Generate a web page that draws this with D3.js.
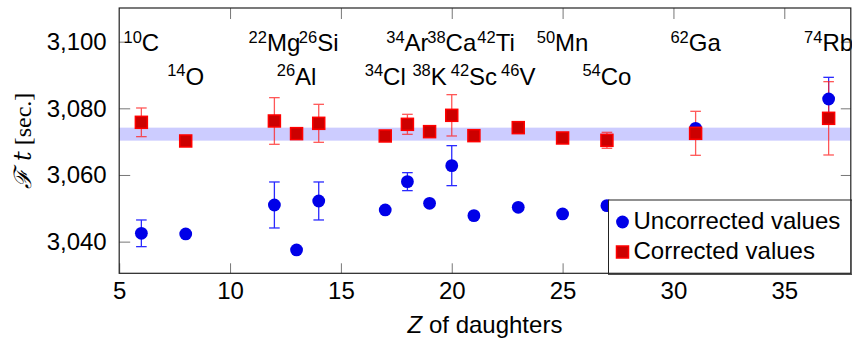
<!DOCTYPE html>
<html>
<head>
<meta charset="utf-8">
<script src="https://cdn.jsdelivr.net/npm/d3@7"></script>
<style>
  body { margin: 0; background: #fff; }
  svg { display: block; font-family: "Liberation Sans", Arial, Helvetica, sans-serif; }
</style>
</head>
<body>
<div id="chart"></div>
<script>
// data
var zVals = [6, 8, 12, 13, 14, 17, 18, 19, 20, 21, 23, 25, 27, 31, 37];
var uncorrected = [3042.5, 3042.3, 3051.0, 3037.5, 3052.2, 3049.5, 3058.0, 3051.5, 3062.8, 3047.8, 3050.3, 3048.3, 3050.8, 3074.0, 3082.8];
var uncorrErr = [4.0, 0, 6.9, 0, 5.7, 0, 2.7, 0, 6.0, 0, 0, 0, 0, 0, 6.5];
var corrected = [3075.8, 3070.2, 3076.2, 3072.4, 3075.5, 3071.7, 3075.2, 3073.0, 3077.9, 3071.8, 3074.2, 3071.1, 3070.4, 3072.5, 3077.0];
var corrErr = [4.3, 0, 7.0, 0, 5.7, 0, 3.0, 1.2, 6.2, 0, 0, 0, 2.4, 6.6, 11.0];

var bandLow = 3070.3, bandHigh = 3074.2;

var nucMass = ["10", "14", "22", "26", "26", "34", "34", "38", "38", "42", "42", "46", "50", "54", "62", "74"];
var nucSym = ["C", "O", "Mg", "Si", "Al", "Ar", "Cl", "Ca", "K", "Ti", "Sc", "V", "Mn", "Co", "Ga", "Rb"];
var nucZ = [6, 8, 12, 14, 13, 18, 17, 20, 19, 22, 21, 23, 25, 27, 31, 37];
var nucLevel = [3100, 3090, 3100, 3100, 3090, 3100, 3090, 3100, 3090, 3100, 3090, 3090, 3100, 3090, 3100, 3100];

var xTicks = [5, 10, 15, 20, 25, 30, 35];
var yTicks = [3040, 3060, 3080, 3100];

var W = 852, H = 339;
var margin = { top: 8, right: 1.2, bottom: 65.7, left: 119.2 },
    width = W - margin.left - margin.right,
    height = H - margin.top - margin.bottom;

var svg = d3.select("#chart").append("svg").attr("width", W).attr("height", H);
var g = svg.append("g").attr("transform", "translate(" + margin.left + "," + margin.top + ")");

var x = d3.scaleLinear().domain([5, 38]).range([0, width]);
var y = d3.scaleLinear().domain([3030.5, 3110.1]).range([height, 0]);

var fs = "24px";

// blue band
g.append("rect")
    .attr("x", 0).attr("width", width)
    .attr("y", y(bandHigh)).attr("height", y(bandLow) - y(bandHigh))
    .attr("fill", "#ccccff");

// axes, ticks pointing inward
var fmt = d3.format(",");
var ax = g.append("g").attr("transform", "translate(0," + height + ")")
    .call(d3.axisBottom(x).tickValues(xTicks).tickSize(-10).tickPadding(9));
var ay = g.append("g")
    .call(d3.axisLeft(y).tickValues(yTicks).tickFormat(fmt).tickSize(-11).tickPadding(12.5));
var axTop = g.append("g")
    .call(d3.axisTop(x).tickValues(xTicks.slice(1)).tickSize(-11).tickFormat(""));
var ayRight = g.append("g").attr("transform", "translate(" + width + ",0)")
    .call(d3.axisRight(y).tickValues(yTicks).tickSize(-10).tickFormat(""));

[ax, ay, axTop, ayRight].forEach(function(a) {
    a.select(".domain").remove();
    a.selectAll(".tick line").attr("stroke", "#777").attr("stroke-width", 1);
    a.selectAll("text").attr("font-size", fs).attr("font-family", "Liberation Sans, Arial, sans-serif").attr("fill", "#000");
});

// nuclide labels
var labs = g.append("g");
nucSym.forEach(function(s, i) {
    var t = labs.append("text")
        .attr("x", x(nucZ[i]))
        .attr("y", y(nucLevel[i]) + 9.8)
        .attr("text-anchor", "middle")
        .attr("font-size", fs);
    t.append("tspan").attr("font-size", "16.5px").attr("dy", -8.4).text(nucMass[i]);
    t.append("tspan").attr("dy", 8.4).text(s);
});

// error bars
function errBars(vals, errs, color, op) {
    var eg = g.append("g").attr("stroke", color).attr("stroke-width", 1.3).attr("opacity", op);
    zVals.forEach(function(z, i) {
        if (!errs[i]) return;
        var cx = x(z), y1 = y(vals[i] + errs[i]), y2 = y(vals[i] - errs[i]);
        eg.append("line").attr("x1", cx).attr("x2", cx).attr("y1", y1).attr("y2", y2);
        eg.append("line").attr("x1", cx - 5.3).attr("x2", cx + 5.3).attr("y1", y1).attr("y2", y1);
        eg.append("line").attr("x1", cx - 5.3).attr("x2", cx + 5.3).attr("y1", y2).attr("y2", y2);
    });
}
errBars(uncorrected, uncorrErr, "#2a2aff", 1);
errBars(corrected, corrErr, "#ff2020", 0.75);

// markers
g.append("g").selectAll("circle").data(zVals).enter().append("circle")
    .attr("cx", function(d) { return x(d); })
    .attr("cy", function(d, i) { return y(uncorrected[i]); })
    .attr("r", 6.4)
    .attr("fill", "#0000e8");
g.append("g").selectAll("rect").data(zVals).enter().append("rect")
    .attr("x", function(d) { return x(d) - 6; })
    .attr("y", function(d, i) { return y(corrected[i]) - 6; })
    .attr("width", 12).attr("height", 12)
    .attr("fill", "#cc0000").attr("stroke", "#ff0000").attr("stroke-width", 1.5);

// legend
var leg = g.append("g").attr("transform", "translate(" + (608.5 - margin.left) + "," + (200 - margin.top) + ")");
leg.append("rect").attr("width", W - 608.5).attr("height", height - (200 - margin.top) + 1)
    .attr("fill", "#fff").attr("stroke", "#222").attr("stroke-width", 1);
leg.append("circle").attr("cx", 14).attr("cy", 22).attr("r", 6.4).attr("fill", "#0000e8");
leg.append("rect").attr("x", 8).attr("y", 46).attr("width", 12).attr("height", 12)
    .attr("fill", "#cc0000").attr("stroke", "#ff0000").attr("stroke-width", 1.5);
leg.append("text").attr("x", 25).attr("y", 28.5).attr("font-size", fs).text("Uncorrected values");
leg.append("text").attr("x", 25).attr("y", 58.5).attr("font-size", fs).text("Corrected values");

// frame
g.append("rect").attr("width", width).attr("height", height)
    .attr("fill", "none").attr("stroke", "#222").attr("stroke-width", 1.2);

// axis titles
var xl = svg.append("text").attr("x", 485).attr("y", 333).attr("text-anchor", "middle").attr("font-size", fs);
xl.append("tspan").attr("font-style", "italic").text("Z");
xl.append("tspan").text(" of daughters");

var yl = svg.append("text")
    .attr("transform", "translate(31," + (margin.top + height / 2) + ") rotate(-90)")
    .attr("text-anchor", "middle").attr("font-size", fs)
    .attr("font-family", "DejaVu Serif, Liberation Serif, serif");
yl.append("tspan").attr("font-style", "italic").text("\u2131");
yl.append("tspan").attr("font-style", "italic").text(" t");
yl.append("tspan").attr("font-family", "Liberation Serif, serif").text(" [sec.]");
</script>
</body>
</html>
